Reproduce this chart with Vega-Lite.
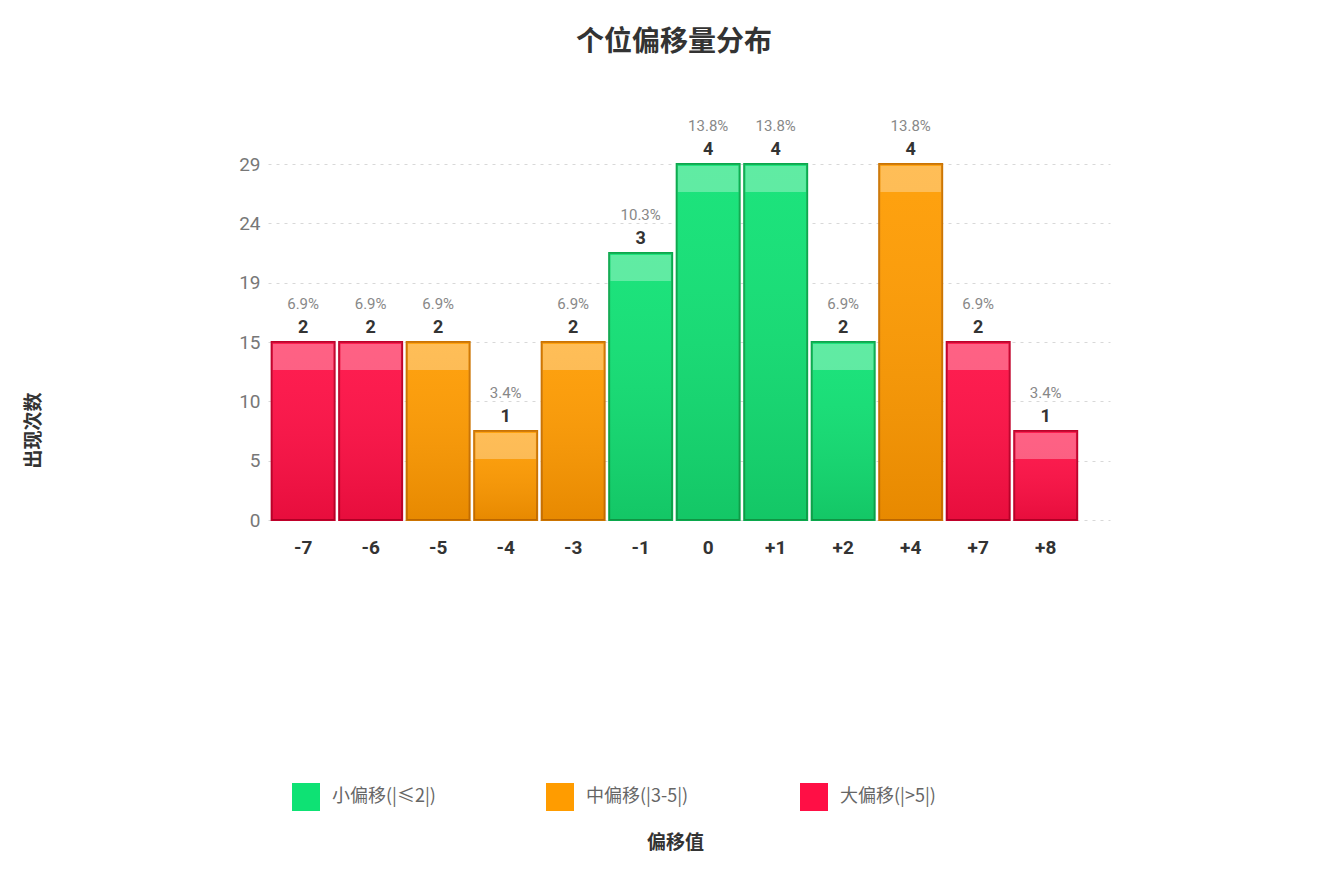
{
  "$schema": "https://vega.github.io/schema/vega-lite/v6.json",
  "autosize": {"type": "none"},
  "width": 842,
  "height": 356,
  "padding": {"left": 268, "top": 164, "right": 219, "bottom": 354},
  "background": "white",
  "config": {"view": {"stroke": null}},
  "title": {
    "text": "个位偏移量分布",
    "font": "Noto Sans CJK SC",
    "fontSize": 28,
    "fontWeight": "bold",
    "color": "#333333",
    "anchor": "middle",
    "dx": -15,
    "offset": 62
  },
  "data": {
    "values": [
      {"offset": "-7", "count": 2, "pct": "6.9%", "type": "大偏移(|>5|)"},
      {"offset": "-6", "count": 2, "pct": "6.9%", "type": "大偏移(|>5|)"},
      {"offset": "-5", "count": 2, "pct": "6.9%", "type": "中偏移(|3-5|)"},
      {"offset": "-4", "count": 1, "pct": "3.4%", "type": "中偏移(|3-5|)"},
      {"offset": "-3", "count": 2, "pct": "6.9%", "type": "中偏移(|3-5|)"},
      {"offset": "-1", "count": 3, "pct": "10.3%", "type": "小偏移(|≤2|)"},
      {"offset": "0", "count": 4, "pct": "13.8%", "type": "小偏移(|≤2|)"},
      {"offset": "+1", "count": 4, "pct": "13.8%", "type": "小偏移(|≤2|)"},
      {"offset": "+2", "count": 2, "pct": "6.9%", "type": "小偏移(|≤2|)"},
      {"offset": "+4", "count": 4, "pct": "13.8%", "type": "中偏移(|3-5|)"},
      {"offset": "+7", "count": 2, "pct": "6.9%", "type": "大偏移(|>5|)"},
      {"offset": "+8", "count": 1, "pct": "3.4%", "type": "大偏移(|>5|)"}
    ]
  },
  "encoding": {
    "x": {
      "field": "offset",
      "type": "ordinal",
      "sort": null,
      "scale": {"paddingInner": 0.067, "paddingOuter": 0.27, "align": 0.1},
      "axis": {
        "title": "偏移值",
        "titleFont": "Noto Sans CJK SC",
        "titleFontSize": 19,
        "titleFontWeight": "bold",
        "titleColor": "#333333",
        "titlePadding": 276,
        "titleX": 407,
        "labelAngle": 0,
        "labelFont": "Roboto",
        "labelFontSize": 19,
        "labelFontWeight": "bold",
        "labelColor": "#333333",
        "labelPadding": 18,
        "ticks": false,
        "domain": false,
        "grid": false
      }
    },
    "y": {
      "field": "count",
      "type": "quantitative",
      "scale": {"domain": [0, 4], "nice": false},
      "axis": {
        "title": "出现次数",
        "titleFont": "Noto Sans CJK SC",
        "titleFontSize": 19,
        "titleFontWeight": "bold",
        "titleColor": "#333333",
        "titlePadding": 195,
        "titleY": 266,
        "values": [0, 0.66667, 1.33333, 2, 2.66667, 3.33333, 4],
        "labelExpr": "round(datum.value * 7.25)",
        "labelFont": "Roboto",
        "labelFontSize": 19,
        "labelColor": "#777777",
        "labelPadding": 8,
        "ticks": false,
        "domain": false,
        "grid": true,
        "gridColor": "#d8d8d8",
        "gridDash": [3, 5],
        "gridWidth": 1
      }
    }
  },
  "layer": [
    {
      "mark": {"type": "bar", "strokeWidth": 2},
      "encoding": {
        "color": {
          "field": "type",
          "type": "nominal",
          "scale": {
            "domain": ["小偏移(|≤2|)", "中偏移(|3-5|)", "大偏移(|>5|)"],
            "range": ["#0ee274", "#ff9c00", "#ff0f45"]
          },
          "legend": {
            "title": null,
            "orient": "none",
            "direction": "horizontal",
            "legendX": 24,
            "legendY": 619,
            "symbolType": "square",
            "symbolSize": 784,
            "symbolStrokeWidth": 0,
            "symbolOpacity": 1,
            "labelFont": "Noto Sans CJK SC",
            "labelFontSize": 18,
            "labelColor": "#666666",
            "labelOffset": 12,
            "columnPadding": 110,
            "gridAlign": "all",
            "padding": 0
          }
        },
        "stroke": {
          "field": "type",
          "type": "nominal",
          "scale": {
            "domain": ["小偏移(|≤2|)", "中偏移(|3-5|)", "大偏移(|>5|)"],
            "range": ["#0aa84c", "#cc7400", "#c0002a"]
          },
          "legend": null
        }
      }
    },
    {
      "mark": {
        "type": "bar",
        "fill": {
          "gradient": "linear",
          "x1": 0, "y1": 0, "x2": 0, "y2": 1,
          "stops": [
            {"offset": 0, "color": "rgba(255,255,255,0.06)"},
            {"offset": 1, "color": "rgba(60,0,0,0.12)"}
          ]
        }
      },
      "encoding": {}
    },
    {
      "mark": {"type": "bar", "fill": "white", "opacity": 0.3, "y2Offset": 28, "yOffset": 2, "width": {"band": 0.96}},
      "encoding": {
        "y2": {"field": "count"}
      }
    },
    {
      "mark": {"type": "text", "baseline": "bottom", "dy": -5, "font": "Roboto", "fontSize": 18, "fontWeight": "bold", "color": "#333333"},
      "encoding": {"text": {"field": "count"}}
    },
    {
      "mark": {"type": "text", "baseline": "bottom", "dy": -30, "font": "Roboto", "fontSize": 15, "color": "#888888"},
      "encoding": {"text": {"field": "pct"}}
    }
  ]
}
